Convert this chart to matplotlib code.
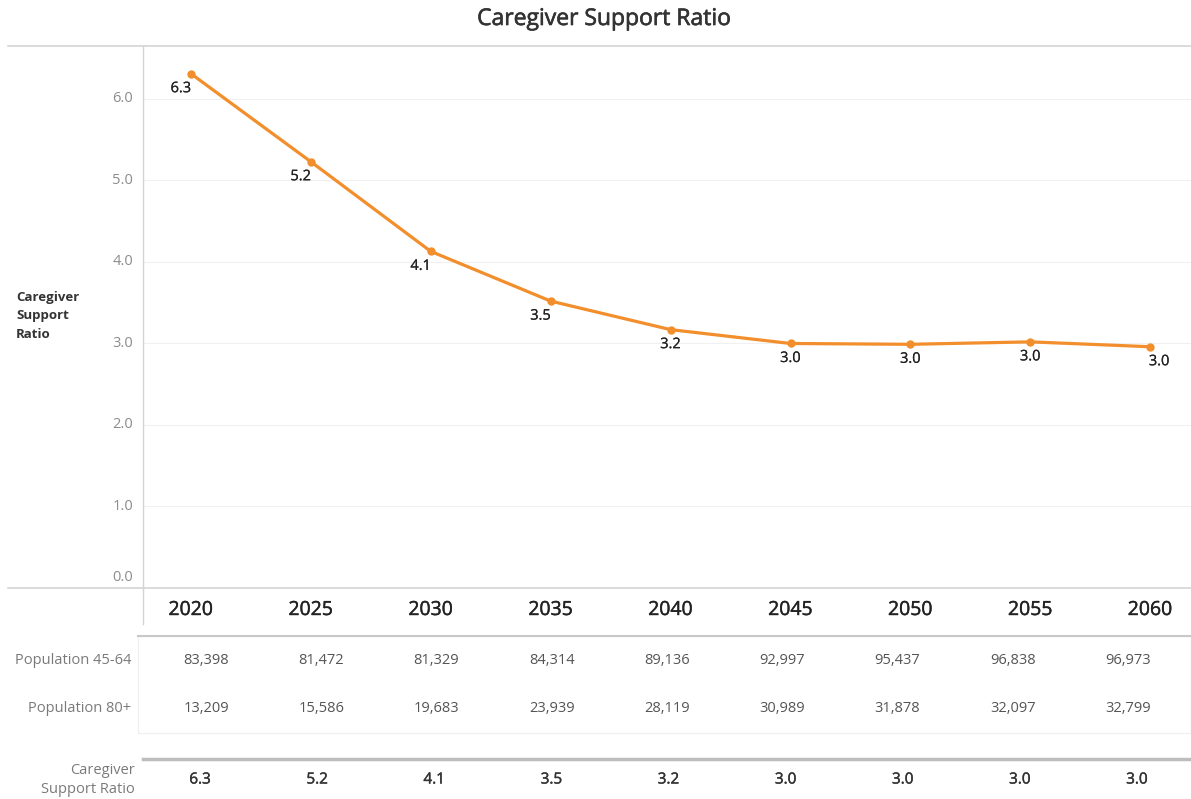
import matplotlib
matplotlib.use("Agg")
import matplotlib.pyplot as plt
import matplotlib.patheffects as pe
from matplotlib.transforms import blended_transform_factory
from matplotlib.lines import Line2D
from matplotlib.patches import Rectangle

years = ["2020", "2025", "2030", "2035", "2040", "2045", "2050", "2055", "2060"]
ratio = [6.31, 5.23, 4.13, 3.52, 3.17, 3.00, 2.99, 3.02, 2.96]
pop_45_64 = [83398, 81472, 81329, 84314, 89136, 92997, 95437, 96838, 96973]
pop_80 = [13209, 15586, 19683, 23939, 28119, 30989, 31878, 32097, 32799]
yticks = [0.0, 1.0, 2.0, 3.0, 4.0, 5.0, 6.0]

plt.rcParams['font.family'] = ['Open Sans', 'DejaVu Sans']

W, H = 1191, 799
fig = plt.figure(figsize=(W / 100, H / 100), dpi=100)

def fy(py):
    return 1 - py / H

def fx(px):
    return px / W

def medium(color, w=0.5):
    return [pe.withStroke(linewidth=w, foreground=color)]

ax = fig.add_axes([fx(143), fy(588), 1 - fx(143), fy(46) - fy(588)])
xs = list(range(len(years)))
ax.plot(xs, ratio, color="#f28e2b", lw=2.3, marker="o", ms=5, zorder=3,
        solid_capstyle="round")
ax.set_xlim(-0.4, len(years) - 1 + 0.34)
ax.set_ylim(0, 6.65)
for t in yticks:
    if t > 0:
        ax.axhline(t, color="#f0f0f0", lw=0.8, zorder=0)
ax.set_yticks([])
ax.set_xticks([])
for s in ["top", "right", "bottom"]:
    ax.spines[s].set_visible(False)
ax.spines["left"].set_color("#d4d4d4")
ax.spines["left"].set_linewidth(1)

# y tick labels
ylab_tr = blended_transform_factory(fig.transFigure, ax.transData)
for t in yticks:
    off = 0.13 if t == 0 else 0
    ax.text(fx(133), t + off, f"{t:.1f}", transform=ylab_tr, ha="right",
            va="center", fontsize=10.5, color="#8c8c8c")

# data labels
label_dx = [-10, -10, -10, -10, 0, 0, 0, 0, 9]
for i, v in enumerate(ratio):
    ax.annotate(f"{v:.1f}", (i, v), xytext=(label_dx[i] * 0.72, -15 * 0.72),
                textcoords="offset points", ha="center", va="center",
                fontsize=10.5, color="#222222",
                path_effects=medium("#222222", 0.15))

# title
fig.text(fx(604), fy(19), "Caregiver Support Ratio", ha="center", va="center",
         fontsize=16.5, color="#333333", path_effects=medium("#333333", 0.45))

# top border line
fig.add_artist(Line2D([fx(8), 1], [fy(46), fy(46)], color="#d4d4d4", lw=1.2))
# bottom axis line
fig.add_artist(Line2D([fx(8), 1], [fy(588), fy(588)], color="#d4d4d4", lw=1.2))
# vertical axis extension down through header
fig.add_artist(Line2D([fx(143), fx(143)], [fy(588), fy(624)], color="#d4d4d4", lw=1))

# y axis title
fig.text(fx(16), fy(316), "Caregiver\nSupport\nRatio", ha="left", va="center",
         fontsize=9.5, fontweight="bold", color="#333333", linespacing=1.58)

tr = blended_transform_factory(ax.transData, fig.transFigure)

# year headers
for i, y in enumerate(years):
    ax.text(i, fy(610), y, transform=tr, ha="center", va="center",
            fontsize=14, color="#222222", clip_on=False,
            path_effects=medium("#222222", 0.3))

# table box
fig.add_artist(Rectangle((fx(138), fy(733)), 1 - fx(138), fy(636) - fy(733),
                         fill=False, edgecolor="#f0f0f0", lw=1))
fig.add_artist(Line2D([fx(138), 1], [fy(636), fy(636)], color="#c8c8c8", lw=1.5))

fig.text(fx(131), fy(660), "Population 45-64", ha="right", va="center",
         fontsize=10.5, color="#7a7a7a")
fig.text(fx(131), fy(708), "Population 80+", ha="right", va="center",
         fontsize=10.5, color="#7a7a7a")

# table column centers (pixels)
pop_col0, pop_step = 206, 115.25
rat_col0, rat_step = 200, 117.1
for i in xs:
    cx = fx(pop_col0 + i * pop_step)
    fig.text(cx, fy(660), f"{pop_45_64[i]:,}", ha="center", va="center",
             fontsize=10.5, color="#555555")
    fig.text(cx, fy(708), f"{pop_80[i]:,}", ha="center", va="center",
             fontsize=10.5, color="#555555")

# thick separator
fig.add_artist(Line2D([fx(143), 1], [fy(759), fy(759)], color="#bdbdbd", lw=2.5))
fig.text(fx(135), fy(780), "Caregiver\nSupport Ratio", ha="right", va="center",
         fontsize=10.5, color="#7a7a7a", linespacing=1.3)
for i in xs:
    fig.text(fx(rat_col0 + i * rat_step), fy(780), f"{ratio[i]:.1f}",
             ha="center", va="center", fontsize=11, color="#333333",
             path_effects=medium("#333333", 0.3))

fig.savefig("out.png", dpi=100, facecolor="white")
